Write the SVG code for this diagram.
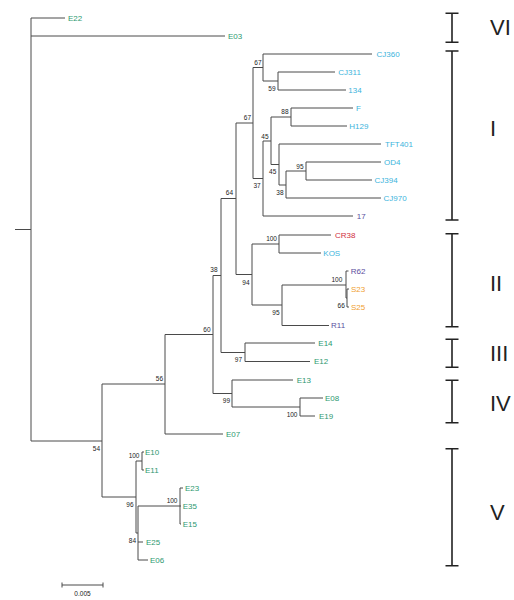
<svg xmlns="http://www.w3.org/2000/svg" width="514" height="600" viewBox="0 0 514 600">
<style>
.br{fill:none;stroke:#4a4a4a;stroke-width:1}
.cl{fill:none;stroke:#222;stroke-width:1.6}
.lf{font-family:"Liberation Sans",Arial,sans-serif;font-size:8px}
.bs{font-family:"Liberation Sans",Arial,sans-serif;font-size:6.5px;fill:#222;text-anchor:end}
.cn{font-family:"Liberation Sans",Arial,sans-serif;font-size:22px;fill:#222}
.g{fill:#2e9970}.c{fill:#3cb4dc}.p{fill:#5b4f9e}.r{fill:#d03040}.o{fill:#f0a030}
</style>
<rect width="514" height="600" fill="#fff"/>
<g id="connectors">
<path class="br" d="M15 229.5H31M31 18V441M31 18H65M31 36H225M31 441H102
M102 384V497M102 384H165M102 497H136
M165 334.5V434M165 434H223M165 334.5H213
M136 461V533M136 461H142M136 533H138
M142 452V470M142 452H144M142 470H144
M138 506V560M138 506H180M138 542H143M138 560H148
M180 488V524M180 488H183M180 506H181M180 524H181
M213 275.5V393.5M213 275.5H221M213 393.5H232
M221 198.5V352.5M221 198.5H236M221 352.5H245
M245 343V361.5M245 343H315M245 361.5H310
M232 380V407M232 380H293M232 407H300
M300 398V416M300 398H323M300 416H315
M236 123V274.5M236 123H253M236 274.5H252
M253 67.5V178.5M253 67.5H263M253 178.5H263
M263 54V81M263 54H372M263 81H278
M278 72V90M278 72H335M278 90H346
M263 141V216M263 141H271M263 216H353
M271 117V164.5M271 117H291M271 164.5H279
M291 108V126M291 108H353M291 126H347
M279 144V185M279 144H381M279 185H286
M286 171V198M286 171H306M286 198H381
M306 162V180M306 162H381M306 180H372
M252 244V305M252 244H279M252 305H282
M279 235V253M279 235H331M279 253H321
M282 285V325.5M282 285H346M282 325.5H329
M346 271V298M346 271H348.5M346 298H347
M347 289V307M347 289H349M347 307H349"/>
</g>
<g id="leaf-E22"><text class="lf g" x="68" y="20.9">E22</text></g>
<g id="leaf-E03"><text class="lf g" x="228" y="38.9">E03</text></g>
<g id="leaf-CJ360"><text class="lf c" x="376.5" y="56.9">CJ360</text></g>
<g id="leaf-CJ311"><text class="lf c" x="338.3" y="74.9">CJ311</text></g>
<g id="leaf-134"><text class="lf c" x="348.3" y="92.9">134</text></g>
<g id="leaf-F"><text class="lf c" x="356" y="110.9">F</text></g>
<g id="leaf-H129"><text class="lf c" x="349.3" y="128.9">H129</text></g>
<g id="leaf-TFT401"><text class="lf c" x="385" y="146.9">TFT401</text></g>
<g id="leaf-OD4"><text class="lf c" x="384" y="164.9">OD4</text></g>
<g id="leaf-CJ394"><text class="lf c" x="374.5" y="182.9">CJ394</text></g>
<g id="leaf-CJ970"><text class="lf c" x="383.5" y="200.9">CJ970</text></g>
<g id="leaf-17"><text class="lf p" x="356.7" y="218.9">17</text></g>
<g id="leaf-CR38"><text class="lf r" x="335" y="237.9">CR38</text></g>
<g id="leaf-KOS"><text class="lf c" x="323.3" y="255.9">KOS</text></g>
<g id="leaf-R62"><text class="lf p" x="350.7" y="273.9">R62</text></g>
<g id="leaf-S23"><text class="lf o" x="351" y="291.9">S23</text></g>
<g id="leaf-S25"><text class="lf o" x="351" y="309.9">S25</text></g>
<g id="leaf-R11"><text class="lf p" x="331" y="328.4">R11</text></g>
<g id="leaf-E14"><text class="lf g" x="318.3" y="346">E14</text></g>
<g id="leaf-E12"><text class="lf g" x="314" y="364.4">E12</text></g>
<g id="leaf-E13"><text class="lf g" x="296.7" y="382.9">E13</text></g>
<g id="leaf-E08"><text class="lf g" x="325" y="400.7">E08</text></g>
<g id="leaf-E19"><text class="lf g" x="319" y="418.9">E19</text></g>
<g id="leaf-E07"><text class="lf g" x="226" y="436.9">E07</text></g>
<g id="leaf-E10"><text class="lf g" x="145" y="455.1">E10</text></g>
<g id="leaf-E11"><text class="lf g" x="145" y="472.9">E11</text></g>
<g id="leaf-E23"><text class="lf g" x="185" y="491.1">E23</text></g>
<g id="leaf-E35"><text class="lf g" x="182.7" y="508.9">E35</text></g>
<g id="leaf-E15"><text class="lf g" x="182.7" y="527.1">E15</text></g>
<g id="leaf-E25"><text class="lf g" x="146" y="545.1">E25</text></g>
<g id="leaf-E06"><text class="lf g" x="150" y="563.1">E06</text></g>
<g id="node-67a"><text class="bs" x="261.5" y="65.3">67</text></g>
<g id="node-59"><text class="bs" x="275.5" y="91.3">59</text></g>
<g id="node-67b"><text class="bs" x="251" y="120.3">67</text></g>
<g id="node-88"><text class="bs" x="288.5" y="114.3">88</text></g>
<g id="node-45a"><text class="bs" x="268.5" y="139.3">45</text></g>
<g id="node-45b"><text class="bs" x="276.3" y="174.3">45</text></g>
<g id="node-95a"><text class="bs" x="303.5" y="169.3">95</text></g>
<g id="node-38b"><text class="bs" x="283.5" y="195.3">38</text></g>
<g id="node-37"><text class="bs" x="260.7" y="188.3">37</text></g>
<g id="node-64"><text class="bs" x="233" y="195.3">64</text></g>
<g id="node-100a"><text class="bs" x="277" y="240.6">100</text></g>
<g id="node-94"><text class="bs" x="249.5" y="284.6">94</text></g>
<g id="node-38a"><text class="bs" x="217.5" y="272.3">38</text></g>
<g id="node-100b"><text class="bs" x="342.3" y="282.3">100</text></g>
<g id="node-66"><text class="bs" x="344.8" y="308.3">66</text></g>
<g id="node-95b"><text class="bs" x="279.5" y="314.6">95</text></g>
<g id="node-60"><text class="bs" x="210.5" y="331.6">60</text></g>
<g id="node-97"><text class="bs" x="242" y="362.3">97</text></g>
<g id="node-56"><text class="bs" x="163" y="381.3">56</text></g>
<g id="node-99"><text class="bs" x="230" y="403.3">99</text></g>
<g id="node-100c"><text class="bs" x="297.5" y="416.6">100</text></g>
<g id="node-54"><text class="bs" x="100" y="450.6">54</text></g>
<g id="node-100d"><text class="bs" x="139.5" y="458">100</text></g>
<g id="node-96"><text class="bs" x="133.5" y="507.3">96</text></g>
<g id="node-100e"><text class="bs" x="177.5" y="503.3">100</text></g>
<g id="node-84"><text class="bs" x="136" y="543">84</text></g>
<g id="scale-bar">
<path class="br" d="M62 585H103M62 582.5V587.5M103 582.5V587.5"/>
<text class="bs" style="text-anchor:middle" x="82.5" y="595.5">0.005</text>
</g>
<g id="clade-VI"><path class="cl" d="M452 13.3V42.3M445.5 13.3H458.5M445.5 42.3H458.5"/><text class="cn" x="490" y="35">VI</text></g>
<g id="clade-I"><path class="cl" d="M452 51V220M445.5 51H458.5M445.5 220H458.5"/><text class="cn" x="490" y="136">I</text></g>
<g id="clade-II"><path class="cl" d="M452 233.7V326.7M445.5 233.7H458.5M445.5 326.7H458.5"/><text class="cn" x="490" y="291">II</text></g>
<g id="clade-III"><path class="cl" d="M452 339.3V367.3M445.5 339.3H458.5M445.5 367.3H458.5"/><text class="cn" x="490" y="361">III</text></g>
<g id="clade-IV"><path class="cl" d="M452 380.3V422.7M445.5 380.3H458.5M445.5 422.7H458.5"/><text class="cn" x="490" y="411">IV</text></g>
<g id="clade-V"><path class="cl" d="M452 448.7V565.7M445.5 448.7H458.5M445.5 565.7H458.5"/><text class="cn" x="490" y="520">V</text></g>
</svg>
